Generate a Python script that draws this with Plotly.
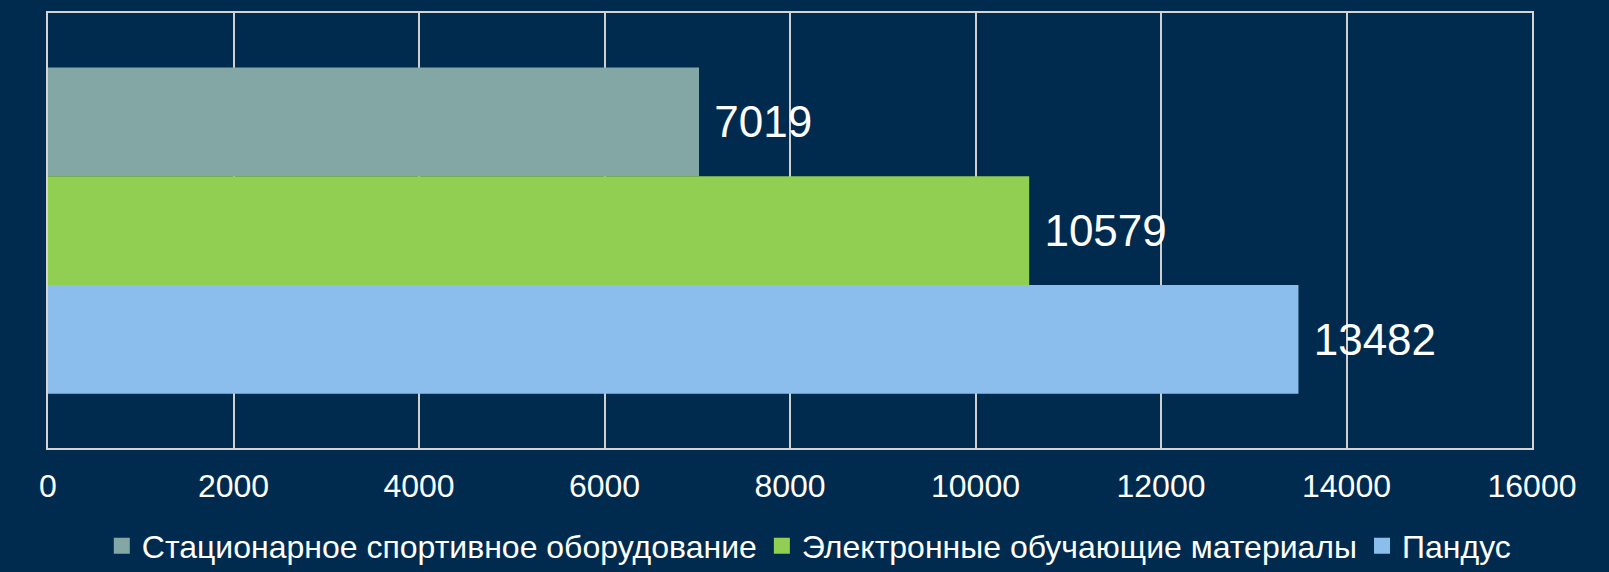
import plotly.graph_objects as go

categories = ["Стационарное спортивное оборудование", "Электронные обучающие материалы", "Пандус"]
values = [7019, 10579, 13482]
colors = ["#83a7a5", "#91cf52", "#8bbeec"]
group = [""]

FONT = "Liberation Sans, Arial"

fig = go.Figure()
for name, val, col in zip(categories, values, colors):
    fig.add_trace(go.Bar(
        y=group, x=[val], orientation="h", name=name,
        marker=dict(color=col, line=dict(width=0)),
        texttemplate=" %{x:d}", textposition="outside",
        textfont=dict(size=44, color="white", family=FONT),
        showlegend=False, cliponaxis=False,
    ))
    fig.add_trace(go.Scatter(
        x=[None], y=[None], mode="markers", name=name,
        marker=dict(symbol="square", size=17, color=col),
    ))

fig.update_layout(
    width=1609, height=572,
    paper_bgcolor="#002b4f", plot_bgcolor="#002b4f",
    margin=dict(l=48, r=77, t=13, b=124, autoexpand=False),
    barmode="group", bargap=0.25, bargroupgap=0,
    font=dict(family=FONT, color="white", size=32),
    legend=dict(orientation="h", x=0.513, xanchor="center", y=-0.225, yanchor="middle",
                font=dict(size=32, color="white", family=FONT), itemsizing="trace",
                bgcolor="rgba(0,0,0,0)"),
)
fig.update_xaxes(range=[0, 16000], dtick=2000, tickformat="d", showgrid=True,
                 gridcolor="#cfcfcf", gridwidth=1.5, automargin=False,
                 zeroline=False, showline=True, linecolor="#d4d4d4", linewidth=2, mirror=True,
                 tickfont=dict(size=32, color="white", family=FONT), ticklabelstandoff=9)
fig.update_yaxes(showticklabels=False, showgrid=False, zeroline=False, showline=True,
                 linecolor="#d4d4d4", linewidth=2, mirror=True, autorange="reversed",
                 type="category", automargin=False)

fig.write_html("out.html", config={"displayModeBar": False},
               post_script="document.body.style.margin='0';document.body.style.background='#002b4f';")
